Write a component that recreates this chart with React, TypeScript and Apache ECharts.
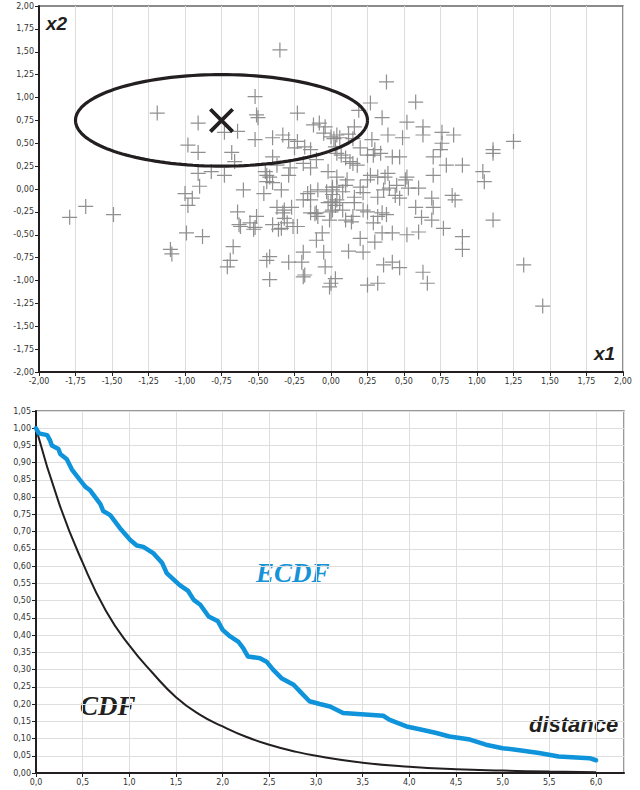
import React, { useEffect, useRef } from "react";
import * as echarts from "echarts";

// ---- top panel: sample points (x1, x2) ----
const samplePoints: [number, number][] = [
  [-1.79, -0.31], [-1.68, -0.19], [-1.49, -0.28], [-1.19, 0.83], [-1.1, -0.66], [-1.09, -0.71],
  [1.45, -1.28], [1.32, -0.83], [-0.35, 1.52], [0.38, 1.17], [0.58, 0.95],
  [-1.0, -0.05], [-0.98, -0.18], [-0.95, -0.1], [-0.9, 0.03], [-0.99, -0.48], [-0.88, -0.52],
  [-0.91, 0.17], [-0.82, 0.19], [-0.73, 0.15], [-0.91, 0.72], [-0.98, 0.48], [-0.91, 0.4],
  [-0.73, 0.62], [-0.64, 0.63], [-0.68, 0.4], [-0.66, 0.3], [-0.52, 1.01], [-0.51, 0.81],
  [-0.5, 0.78], [-0.23, 0.83], [-0.52, 0.54], [-0.67, -0.63], [-0.69, -0.78], [-0.71, -0.85],
  [-0.6, -0.01], [-0.64, -0.25], [-0.63, -0.39], [-0.62, -0.41], [-0.555, -0.37], [-0.51, -0.3],
  [-0.53, -0.44], [-0.52, -0.42], [-0.42, -0.74], [-0.44, -0.78], [-0.42, -0.99],
  [-0.46, -0.05], [-0.44, 0.08], [-0.44, 0.15], [-0.4, 0.07], [-0.34, -0.01], [-0.37, -0.2],
  [-0.33, -0.26], [-0.3, -0.37], [-0.34, -0.43], [-0.26, -0.41], [-0.23, -0.41], [-0.32, -0.23],
  [-0.27, -0.2], [-0.36, -0.44], [-0.32, -0.32], [-0.4, -0.39], [-0.29, -0.8], [-0.2, -0.8],
  [-0.19, -0.96], [-0.19, -0.69], [-0.16, -0.05], [-0.14, -0.12], [-0.11, -0.27], [-0.1, -0.56],
  [-0.19, -0.12], [-0.14, -0.03], [-0.09, -0.01], [-0.03, -0.03], [0.01, 0.02], [0.0, -0.14],
  [-0.1, -0.26], [-0.09, -0.3], [-0.06, -0.48], [-0.05, -0.69], [-0.04, -0.85], [-0.18, -0.94],
  [0.03, -0.98], [-0.01, -1.07], [-0.02, -0.15], [0.0, -0.25], [-0.14, -0.26],
  [-0.4, 0.56], [-0.33, 0.59], [-0.29, 0.54], [-0.23, 0.52], [-0.18, 0.46], [-0.25, 0.45],
  [-0.14, 0.43], [-0.08, 0.72], [-0.04, 0.68], [-0.12, 0.7], [0.0, 0.57], [0.04, 0.59],
  [-0.05, 0.61], [0.02, 0.55], [-0.4, 0.35], [-0.37, 0.26], [-0.45, 0.19], [-0.28, 0.23],
  [-0.19, 0.28], [-0.14, 0.23], [-0.1, 0.32], [-0.02, 0.19], [0.04, 0.39], [-0.29, 0.15],
  [-0.42, 0.13], [0.03, 0.46], [0.06, 0.56],
  [0.27, 0.94], [0.19, 0.86], [0.35, 0.78], [0.16, 0.68], [0.52, 0.73], [0.63, 0.68],
  [0.63, 0.59], [0.76, 0.62], [0.84, 0.59], [0.39, 0.59], [0.49, 0.56], [0.28, 0.54],
  [0.3, 0.43], [0.34, 0.39], [0.25, 0.37], [0.42, 0.35], [0.47, 0.35], [0.76, 0.5],
  [0.75, 0.43], [0.7, 0.35], [0.79, 0.26], [0.9, 0.26], [1.11, 0.43], [1.11, 0.39],
  [1.25, 0.52], [1.04, 0.19], [1.05, 0.08], [0.1, 0.34], [0.18, 0.26], [0.13, 0.3],
  [0.27, 0.15], [0.37, 0.13], [0.52, 0.13], [0.7, 0.15], [0.04, 0.02], [0.08, -0.03],
  [0.16, -0.09], [0.22, -0.04], [0.25, 0.1], [0.32, 0.13], [0.39, 0.17], [0.45, 0.04],
  [0.51, 0.1], [0.53, 0.01], [0.6, 0.01], [0.47, -0.1], [0.32, -0.09], [0.69, -0.1],
  [0.83, -0.07], [0.85, -0.12], [0.58, -0.2], [0.7, -0.2], [0.62, -0.31], [0.69, -0.34],
  [0.77, -0.43], [0.9, -0.52], [0.9, -0.66], [1.11, -0.34], [0.03, -0.18], [0.08, -0.23],
  [0.15, -0.3], [0.25, -0.25], [0.32, -0.3], [0.38, -0.28], [0.29, -0.37], [0.14, -0.36],
  [0.2, -0.54], [0.3, -0.58], [0.12, -0.68], [0.22, -0.69], [0.35, -0.48], [0.42, -0.48],
  [0.52, -0.5], [0.6, -0.47], [0.36, -0.83], [0.42, -0.8], [0.47, -0.86], [0.63, -0.91],
  [0.66, -1.03], [0.0, -1.03], [0.25, -1.05], [0.32, -1.03], [0.01, -0.01], [0.04, -0.12],
  [0.01, -0.23], [-0.01, -0.34], [0.1, -0.34], [0.1, 0.04], [0.2, 0.45], [0.15, 0.55],
  [0.12, 0.6], [0.07, 0.37], [0.15, 0.28], [0.29, 0.37], [0.04, 0.13], [0.11, 0.1],
  [0.2, 0.02], [0.01, -0.06], [0.06, -0.15], [0.16, -0.15], [0.22, -0.23], [0.35, -0.26],
  [0.36, -0.01], [0.4, 0.01], [0.44, -0.07],
];
const centroid: [number, number] = [-0.75, 0.75];
const ellipseRadii: [number, number] = [1.0, 0.5];

// ---- bottom panel: survival curves vs. distance ----
const ecdfDistance = [
  0, 0.03, 0.12, 0.15, 0.17, 0.24, 0.26, 0.33, 0.385, 0.47, 0.53, 0.58, 0.69, 0.72, 0.795, 0.9,
  1.01, 1.08, 1.15, 1.26, 1.35, 1.4, 1.54, 1.63, 1.69, 1.76, 1.85, 1.95, 2.0, 2.08, 2.17, 2.22,
  2.27, 2.4, 2.47, 2.54, 2.63, 2.76, 2.83, 2.93, 3.04, 3.15, 3.29, 3.72, 3.79, 3.97, 4.11, 4.29,
  4.43, 4.65, 4.82, 5.0, 5.18, 5.39, 5.6, 5.93, 6.0,
];
const ecdfValue = [
  1.0, 0.985, 0.98, 0.965, 0.95, 0.94, 0.925, 0.91, 0.88, 0.85, 0.83, 0.82, 0.78, 0.76, 0.748, 0.71,
  0.676, 0.66, 0.656, 0.637, 0.61, 0.58, 0.545, 0.528, 0.502, 0.488, 0.454, 0.44, 0.415, 0.396, 0.38, 0.362,
  0.338, 0.333, 0.323, 0.3, 0.275, 0.256, 0.236, 0.208, 0.2, 0.193, 0.174, 0.166, 0.154, 0.135, 0.127, 0.116,
  0.106, 0.097, 0.082, 0.072, 0.066, 0.058, 0.048, 0.043, 0.037,
];
const cdfDistance = [0, 0.25, 0.5, 0.75, 1.0, 1.25, 1.5, 1.75, 2.0, 2.25, 2.5, 2.75, 3.0, 3.5, 4.0, 4.5, 5.0, 5.5, 6.0];
const cdfValue = [1.0, 0.78, 0.61, 0.47, 0.37, 0.29, 0.22, 0.17, 0.135, 0.105, 0.082, 0.064, 0.05, 0.03, 0.018, 0.011, 0.007, 0.004, 0.0025];

const comma = (v: number, d: number) => v.toFixed(d).replace(".", ",");

const PLUS = "path://M0,7.35H16V8.65H0Z M7.35,0H8.65V16H7.35Z";
const CROSS = "path://M0,2.6L2.6,0L24,21.4L21.4,24Z M21.4,0L24,2.6L2.6,24L0,21.4Z";

const labelFont = { fontFamily: "DejaVu Sans", fontSize: 8, color: "#333" };
const axisDark = { show: true, onZero: false, lineStyle: { color: "#231f20", width: 2 } };
const tickOut = { show: true, length: 4, inside: false, lineStyle: { color: "#231f20", width: 1 } };

export default function App() {
  const ref = useRef<HTMLDivElement>(null);
  useEffect(() => {
    const chart = echarts.init(ref.current!, null, { renderer: "svg" });
    const ellipse: number[][] = [];
    for (let i = 0; i <= 160; i++) {
      const t = (i / 160) * 2 * Math.PI;
      ellipse.push([centroid[0] + ellipseRadii[0] * Math.cos(t), centroid[1] + ellipseRadii[1] * Math.sin(t)]);
    }
    chart.setOption({
      animation: false,
      backgroundColor: "#ffffff",
      grid: [
        { left: 39, top: 6, width: 584, height: 366, show: true, borderColor: "#666", borderWidth: 1.5, backgroundColor: "transparent" },
        { left: 36, top: 411, width: 588, height: 362, show: true, borderColor: "#777", borderWidth: 1.5, backgroundColor: "transparent" },
      ],
      xAxis: [
        {
          gridIndex: 0, type: "value", min: -2, max: 2, interval: 0.25,
          axisLine: axisDark, axisTick: tickOut,
          axisLabel: { ...labelFont, margin: 5, formatter: (v: number) => comma(v, 2) },
          splitLine: { show: true, lineStyle: { color: "#dcdcdc", width: 1 } },
        },
        {
          gridIndex: 1, type: "value", min: 0, max: 6.3, interval: 0.5,
          axisLine: axisDark, axisTick: tickOut,
          axisLabel: { ...labelFont, margin: 5, showMaxLabel: false, formatter: (v: number) => (v <= 6.0001 ? comma(v, 1) : "") },
          splitLine: { show: true, lineStyle: { color: "#dedede", width: 1 } },
        },
      ],
      yAxis: [
        {
          gridIndex: 0, type: "value", min: -2, max: 2, interval: 0.25,
          axisLine: axisDark, axisTick: tickOut,
          axisLabel: { ...labelFont, margin: 5, formatter: (v: number) => comma(v, 2) },
          splitLine: { show: false },
        },
        {
          gridIndex: 1, type: "value", min: 0, max: 1.05, interval: 0.05,
          axisLine: axisDark, axisTick: tickOut,
          axisLabel: { ...labelFont, margin: 5, formatter: (v: number) => comma(v, 2) },
          splitLine: { show: true, lineStyle: { color: "#dedede", width: 1 } },
        },
      ],
      series: [
        {
          type: "scatter", xAxisIndex: 0, yAxisIndex: 0, data: samplePoints,
          symbol: PLUS, symbolSize: 15,
          itemStyle: { color: "#8a8a8a", opacity: 0.95 }, z: 2,
        },
        {
          type: "line", xAxisIndex: 0, yAxisIndex: 0, data: ellipse, showSymbol: false, symbol: "none",
          lineStyle: { color: "#231f20", width: 3.2 }, z: 3,
        },
        {
          type: "scatter", xAxisIndex: 0, yAxisIndex: 0, data: [centroid],
          symbol: CROSS, symbolSize: 25, itemStyle: { color: "#231f20", opacity: 1 }, z: 4,
        },
        {
          type: "line", xAxisIndex: 1, yAxisIndex: 1, smooth: true, showSymbol: false, symbol: "none",
          data: cdfDistance.map((d, i) => [d, cdfValue[i]]),
          lineStyle: { color: "#231f20", width: 2 }, z: 3,
        },
        {
          type: "line", xAxisIndex: 1, yAxisIndex: 1, showSymbol: false, symbol: "none",
          data: ecdfDistance.map((d, i) => [d, ecdfValue[i]]),
          lineStyle: { color: "#0f93da", width: 4.5, join: "round", cap: "round" }, z: 4,
        },
      ],
      graphic: [
        { type: "text", left: 46, top: 14, style: { text: "x2", fontFamily: "Liberation Sans", fontSize: 19, fontWeight: "bold", fontStyle: "italic", fill: "#231f20" } },
        { type: "text", left: 594, top: 344, style: { text: "x1", fontFamily: "Liberation Sans", fontSize: 19, fontWeight: "bold", fontStyle: "italic", fill: "#231f20" } },
        { type: "text", left: 256, top: 559, style: { text: "ECDF", fontFamily: "Liberation Serif", fontSize: 27, fontWeight: "bold", fontStyle: "italic", fill: "#1593d6" } },
        { type: "text", left: 80, top: 692, style: { text: "CDF", fontFamily: "Liberation Serif", fontSize: 27, fontWeight: "bold", fontStyle: "italic", fill: "#231f20" } },
        { type: "text", left: 529, top: 713, style: { text: "distance", fontFamily: "Liberation Sans", fontSize: 22, fontWeight: "bold", fontStyle: "italic", fill: "#231f20" } },
      ],
    });
    return () => chart.dispose();
  }, []);
  return <div ref={ref} style={{ position: "fixed", left: 0, top: 0, width: 640, height: 790 }} />;
}
